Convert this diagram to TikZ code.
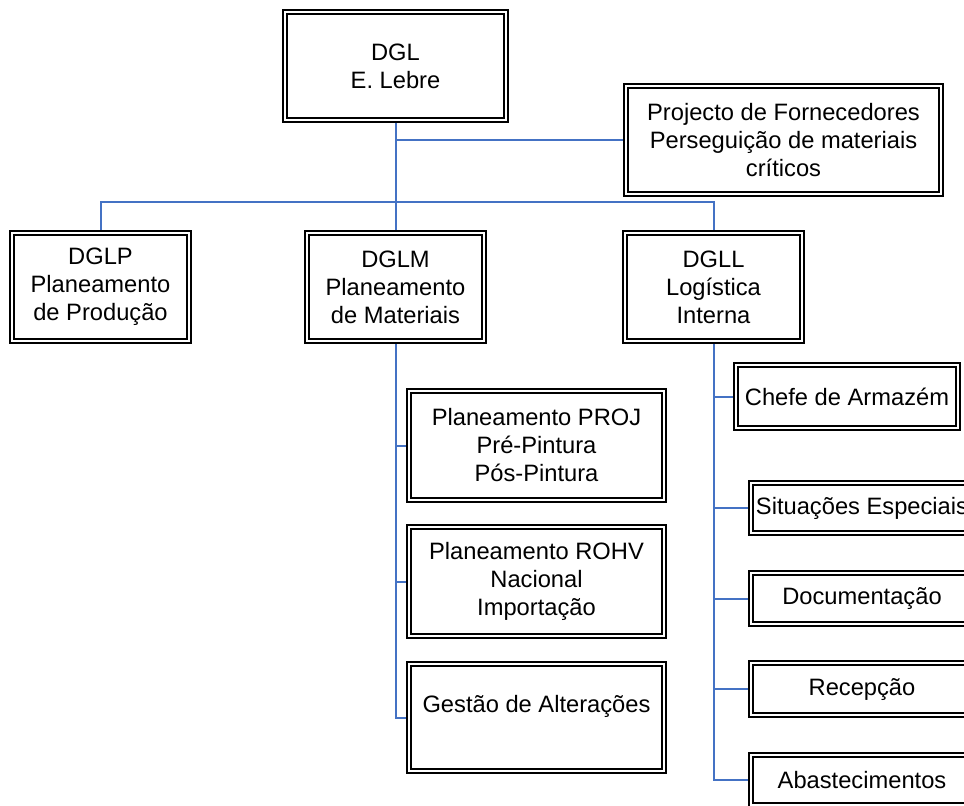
\documentclass[tikz,border=0pt]{standalone}
\usepackage{fontspec}
\setmainfont{Liberation Sans}
\usetikzlibrary{backgrounds}
\definecolor{linkblue}{HTML}{4472C4}
\tikzset{
  orgbox/.style={draw=black, double=white, line width=1.1pt, double distance=0.8pt,
    inner sep=0pt, align=center, font=\fontsize{11.85pt}{14pt}\selectfont},
  link/.style={draw=linkblue, line width=1pt}
}
\begin{document}
\begin{tikzpicture}[x=0.5pt,y=-0.5pt]
\path[use as bounding box] (0,0) rectangle (964,805);
\clip (0,0) rectangle (964,805);
% top level
\node[orgbox, minimum width=110.5pt, minimum height=54pt] (dgl) at (395.5,66) {DGL\\E. Lebre};
\node[orgbox, minimum width=157.5pt, minimum height=54pt] (proj) at (783.5,140) {Projecto de Fornecedores\\Perseguição de materiais\\críticos};
% second level
\node[orgbox, minimum width=88.5pt, minimum height=54pt] (dglp) at (100.5,287) {DGLP\\Planeamento\\de Produção};
\node[orgbox, minimum width=88.5pt, minimum height=54pt] (dglm) at (395.5,287) {DGLM\\Planeamento\\de Materiais};
\node[orgbox, minimum width=88.5pt, minimum height=54pt] (dgll) at (713.5,287) {DGLL\\Logística\\Interna};
% DGLM children
\node[orgbox, minimum width=127.5pt, minimum height=54.5pt] (pproj) at (536.5,445.5) {Planeamento PROJ\\Pré-Pintura\\Pós-Pintura};
\node[orgbox, minimum width=127.5pt, minimum height=54.5pt] (prohv) at (536.5,581.5) {Planeamento ROHV\\Nacional\\Importação};
\node[orgbox, minimum width=127.5pt, minimum height=53.5pt] (gest) at (536.5,717.5) {Gestão de Alterações\\\mbox{}};
% DGLL children
\node[orgbox, minimum width=111pt, minimum height=31.5pt] (chefe) at (847,396.5) {Chefe de Armazém};
\node[orgbox, minimum width=111pt, minimum height=25pt] (sit) at (862,508) {Situações Especiais};
\node[orgbox, minimum width=111pt, minimum height=25.5pt] (doc) at (862,598.5) {Documentação};
\node[orgbox, minimum width=111pt, minimum height=26pt] (rec) at (862,689) {Recepção};
\node[orgbox, minimum width=111pt, minimum height=25pt] (abast) at (862,780) {Abastecimentos};
% connectors
\begin{scope}[on background layer]
\coordinate (bus) at (395.5,202);
\draw[link] (dgl.south) -- (dglm.north);
\draw[link] (dgl.south |- proj.west) -- (proj.west);
\draw[link] (dglp.north) |- (bus) -| (dgll.north);
\draw[link] (dglm.south) |- (gest.west);
\draw[link] (dglm.south |- pproj.west) -- (pproj.west);
\draw[link] (dglm.south |- prohv.west) -- (prohv.west);
\draw[link] (dgll.south) |- (abast.west);
\draw[link] (dgll.south |- chefe.west) -- (chefe.west);
\draw[link] (dgll.south |- sit.west) -- (sit.west);
\draw[link] (dgll.south |- doc.west) -- (doc.west);
\draw[link] (dgll.south |- rec.west) -- (rec.west);
\end{scope}
\end{tikzpicture}
\end{document}
